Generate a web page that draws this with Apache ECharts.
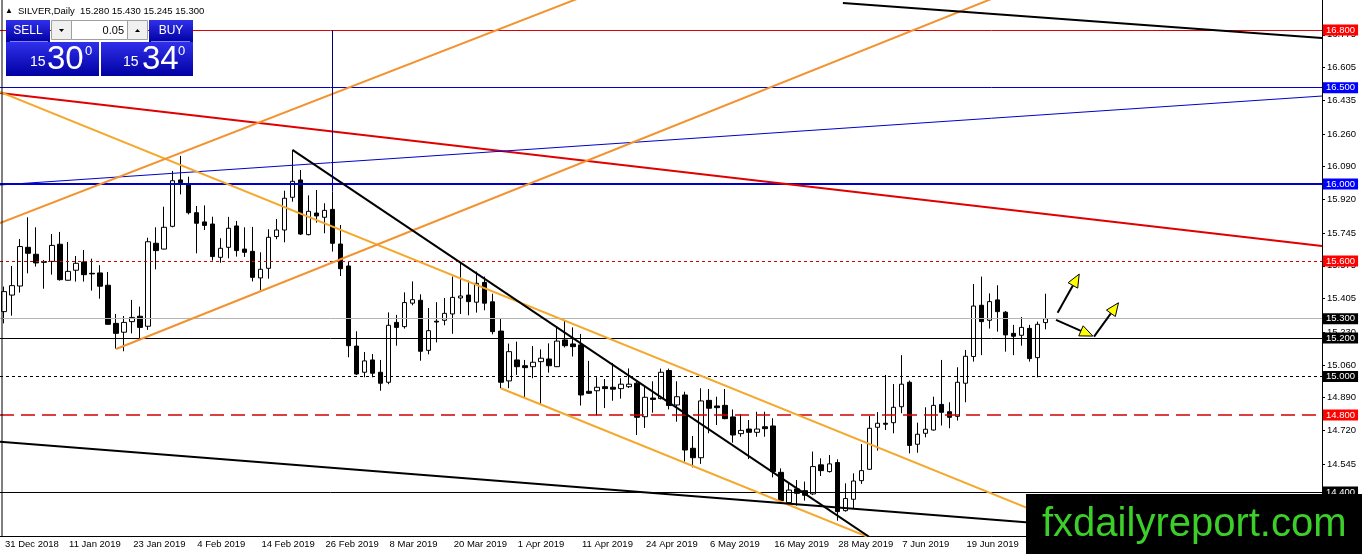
<!DOCTYPE html>
<html>
<head>
<meta charset="utf-8">
<title>SILVER,Daily</title>
<script src="https://cdn.jsdelivr.net/npm/echarts@6/dist/echarts.min.js"></script>
<style>
html,body{margin:0;padding:0;background:#fff;}
#chart{width:1362px;height:554px;}
</style>
</head>
<body>
<div id="chart"></div>
<script>
// date labels, one every 8 daily bars
var tickLabels = ['31 Dec 2018','11 Jan 2019','23 Jan 2019','4 Feb 2019','14 Feb 2019','26 Feb 2019',
    '8 Mar 2019','20 Mar 2019','1 Apr 2019','11 Apr 2019','24 Apr 2019','6 May 2019','16 May 2019',
    '28 May 2019','7 Jun 2019','19 Jun 2019','1 Jul 2019'];
var barsPerTick = 8;
var slotCount = 165;   //bar slots visible on the chart

// daily bars: [open, close, low, high]
var ohlc = [
    [15.337,15.441,15.276,15.467],[15.423,15.472,15.316,15.574],[15.470,15.675,15.436,15.714],[15.671,15.640,15.536,15.827],
    [15.635,15.590,15.571,15.775],[15.597,15.593,15.456,15.605],[15.598,15.681,15.529,15.740],[15.687,15.503,15.498,15.751],
    [15.500,15.546,15.498,15.699],[15.552,15.588,15.493,15.626],[15.595,15.529,15.493,15.657],[15.536,15.533,15.446,15.612],
    [15.538,15.469,15.404,15.578],[15.474,15.271,15.268,15.543],[15.276,15.224,15.145,15.325],[15.230,15.281,15.131,15.314],
    [15.285,15.307,15.224,15.398],[15.313,15.255,15.197,15.363],[15.261,15.700,15.242,15.721],[15.692,15.654,15.557,15.775],
    [15.662,15.775,15.660,15.882],[15.780,16.017,15.775,16.068],[16.021,16.007,15.946,16.146],[16.000,15.851,15.842,16.038],
    [15.851,15.796,15.640,15.886],[15.803,15.785,15.761,15.889],[15.792,15.623,15.602,15.830],[15.619,15.666,15.591,15.718],
    [15.671,15.770,15.614,15.829],[15.782,15.654,15.623,15.808],[15.662,15.645,15.621,15.775],[15.650,15.515,15.494,15.777],
    [15.512,15.557,15.448,15.645],[15.562,15.723,15.508,15.765],[15.727,15.761,15.713,15.818],[15.761,15.926,15.697,15.965],
    [15.931,16.014,15.908,16.177],[16.021,15.740,15.735,16.073],[15.737,15.858,15.733,15.941],[15.849,15.834,15.799,15.969],
    [15.827,15.863,15.744,15.900],[15.868,15.692,15.649,15.960],[15.688,15.560,15.522,15.787],[15.574,15.160,15.100,15.597],
    [15.158,15.013,15.008,15.235],[15.022,15.081,14.996,15.127],[15.086,15.017,14.996,15.117],[15.022,14.965,14.926,15.086],
    [14.970,15.266,14.960,15.333],[15.281,15.255,15.160,15.320],[15.259,15.384,15.249,15.437],[15.381,15.399,15.370,15.494],
    [15.396,15.131,15.082,15.427],[15.136,15.238,15.115,15.356],[15.287,15.283,15.177,15.386],[15.292,15.328,15.266,15.408],
    [15.325,15.411,15.222,15.519],[15.408,15.418,15.325,15.593],[15.423,15.389,15.318,15.498],[15.386,15.484,15.332,15.545],
    [15.489,15.381,15.344,15.519],[15.388,15.233,15.219,15.430],[15.236,14.970,14.939,15.299],[14.977,15.129,14.939,15.171],
    [15.086,15.051,15.008,15.181],[15.056,15.046,14.887,15.086],[15.051,15.074,14.991,15.158],[15.077,15.095,14.852,15.141],
    [15.091,15.056,15.020,15.172],[15.051,15.184,15.049,15.259],[15.190,15.160,15.151,15.294],[15.169,15.155,15.104,15.255],
    [15.164,14.904,14.849,15.221],[14.923,14.913,14.909,15.081],[14.926,14.944,14.798,14.996],[14.947,14.937,14.836,14.987],
    [14.944,14.934,14.874,15.069],[14.937,14.960,14.885,14.991],[14.947,14.960,14.940,15.042],[14.965,14.788,14.696,14.974],
    [14.791,14.892,14.733,14.951],[14.888,14.881,14.812,14.975],[14.885,15.022,14.881,15.041],[15.031,14.849,14.829,15.041],
    [14.852,14.895,14.765,14.975],[14.904,14.618,14.558,14.921],[14.627,14.578,14.528,14.691],[14.578,14.873,14.546,14.939],
    [14.876,14.835,14.705,14.935],[14.847,14.838,14.748,14.895],[14.850,14.781,14.778,14.935],[14.790,14.696,14.656,14.829],
    [14.703,14.720,14.687,14.805],[14.727,14.710,14.571,14.774],[14.710,14.727,14.687,14.817],[14.739,14.729,14.687,14.817],
    [14.743,14.506,14.476,14.783],[14.502,14.355,14.350,14.523],[14.345,14.410,14.329,14.445],[14.416,14.393,14.329,14.462],
    [14.407,14.383,14.355,14.454],[14.390,14.532,14.384,14.610],[14.541,14.511,14.483,14.575],[14.506,14.546,14.501,14.592],
    [14.553,14.298,14.251,14.570],[14.303,14.366,14.298,14.445],[14.362,14.457,14.315,14.497],[14.459,14.511,14.442,14.649],
    [14.518,14.731,14.515,14.795],[14.736,14.757,14.615,14.815],[14.757,14.752,14.722,15.008],[14.760,14.840,14.705,14.961],
    [14.843,14.960,14.809,15.111],[14.970,14.642,14.601,14.979],[14.648,14.700,14.604,14.760],[14.705,14.726,14.684,14.840],
    [14.722,14.850,14.719,14.895],[14.855,14.814,14.745,15.086],[14.817,14.788,14.731,14.866],[14.793,14.970,14.771,15.048],
    [14.965,15.105,14.866,15.138],[15.104,15.366,15.077,15.480],[15.370,15.285,15.111,15.519],[15.292,15.389,15.249,15.432],
    [15.398,15.337,15.233,15.474],[15.334,15.216,15.129,15.340],[15.224,15.209,15.111,15.268],[15.214,15.255,15.160,15.309],
    [15.250,15.093,15.077,15.268],[15.098,15.271,14.996,15.285],[15.280,15.300,15.245,15.430]
];

// right price scale
var priceTicks = [16.775,16.605,16.435,16.260,16.090,15.920,15.745,15.575,15.405,15.230,15.060,14.890,14.720,14.545];
var priceMin = 14.1714, priceMax = 16.9558;

// horizontal levels
var levelPrices = [16.8, 16.5, 16.0, 15.6, 15.3, 15.2, 15.0, 14.8, 14.4];

// trend lines, [bar index, price]
var trendRed       = [[-0.5,16.473],[164.5,15.678]];
var trendBlue      = [[-0.5,15.995],[164.5,16.457]];
var chanUpper      = [[-0.5,16.478],[136.8,14.164]];
var chanLower      = [[62,14.939],[110,14.130]];
var riseUpper      = [[-0.5,15.797],[74.4,17.008]];
var riseLower      = [[14,15.143],[124.3,16.979]];
var fallBlack      = [[36,16.177],[109.3,14.130]];
var baseBlack      = [[-0.5,14.661],[164.5,14.122]];
var topBlack       = [[104.7,16.940],[164.5,16.758]];
var markVertical   = [[41,16.8],[41,15.96]];

// yellow arrows, [tail, tip]
var arrows = [
    [[131.5,15.331],[134.2,15.532]],
    [[131.3,15.294],[135.9,15.210]],
    [[136.05,15.207],[139.1,15.383]]
];

var FONT = 'Liberation Sans';

var slots = [];
for (var i = 0; i < slotCount; i++) {
    var k = i / barsPerTick;
    slots.push(i % barsPerTick == 0 && k < tickLabels.length ? tickLabels[k] : '');
}

//样式: line colour, dash, width, label box colour
var levelStyle = [
    {c:'#e00000', t:'solid', w:1, bg:'#ff0000'},
    {c:'#0000c8', t:'solid', w:1, bg:'#0000ff'},
    {c:'#0000c8', t:'solid', w:2, bg:'#0000ff'},
    {c:'#d00000', t:[3,3], w:1, bg:'#ff0000'},
    {c:'#b4b4b4', t:'solid', w:1, bg:'#000000'},
    {c:'#000000', t:'solid', w:1, bg:'#000000'},
    {c:'#000000', t:[3,3], w:1, bg:'#000000'},
    {c:'#d00000', t:[14,7], w:1.5, bg:'#ff0000'},
    {c:'#000000', t:'solid', w:1, bg:'#000000'}
];

var levelLines = levelPrices.map(function (p, i) {
    var s = levelStyle[i];
    return {
        yAxis: p,
        lineStyle: {color: s.c, type: s.t, width: s.w},
        label: {
            show: true, position: 'end', distance: 1,
            formatter: p.toFixed(3),
            color: '#fff', backgroundColor: s.bg,
            fontFamily: FONT, fontSize: 9.5, padding: [1, 3, 0, 3]
        }
    };
});

function trend(data, color, width) {
    return {
        type: 'line', xAxisIndex: 1, yAxisIndex: 0,
        data: data, symbol: 'none', silent: true, clip: true, z: 5,
        lineStyle: {color: color, width: width}
    };
}

var tickShown = function (index, value) { return value !== ''; };

var myChart = echarts.init(document.getElementById('chart'));
var option = {
    animation: false,
    backgroundColor: '#fff',
    grid: {left: 0, right: 40, top: 0, bottom: 18},
    xAxis: [{
        type: 'category',
        data: slots,
        boundaryGap: true,
        axisLine: {onZero: false, lineStyle: {color: '#000', width: 1}},
        axisTick: {interval: tickShown, alignWithLabel: true, length: 4, lineStyle: {color: '#000'}},
        axisLabel: {interval: tickShown, align: 'left', margin: 3, color: '#000',
            fontFamily: FONT, fontSize: 9.5, padding: [0, 0, 0, 1]},
        splitLine: {show: false}
    }, {
        type: 'value', min: -0.5, max: slotCount - 0.5, show: false,
        axisLine: {onZero: false}
    }],
    yAxis: [{
        type: 'value',
        position: 'right',
        min: priceMin, max: priceMax,
        axisLine: {show: true, onZero: false, lineStyle: {color: '#000'}},
        axisTick: {show: true, customValues: priceTicks, length: 3, lineStyle: {color: '#000'}},
        axisLabel: {customValues: priceTicks, margin: 5, color: '#000', fontFamily: FONT, fontSize: 9.5,
            formatter: function (v) { return v.toFixed(3); }},
        splitLine: {show: false}
    }],
    series: [{
        type: 'candlestick',
        data: ohlc,
        barWidth: 5,
        itemStyle: {color: '#ffffff', color0: '#000000', borderColor: '#000000', borderColor0: '#000000', borderWidth: 1},
        markLine: {symbol: 'none', silent: true, animation: false, data: levelLines},
        z: 3
    },
        trend(trendRed, '#e00000', 2),
        trend(trendBlue, '#0000c8', 1),
        trend(chanUpper, '#f4a82c', 2),
        trend(chanLower, '#f4a82c', 2),
        trend(riseUpper, '#f29330', 2),
        trend(riseLower, '#f29330', 2),
        trend(fallBlack, '#000000', 2),
        trend(baseBlack, '#000000', 2),
        trend(topBlack, '#000000', 2),
        trend(markVertical, '#000080', 1)
    ]
};
myChart.setOption(option);

// 面板和水印
var blueFill = new echarts.graphic.LinearGradient(0, 0, 0, 1, [
    {offset: 0, color: '#3030ec'}, {offset: 1, color: '#0000a2'}
]);
var graphics = [
    {type: 'line', shape: {x1: 2, y1: 0, x2: 2, y2: 536}, style: {stroke: '#000', lineWidth: 1}, z: 20},
    {type: 'text', x: 5, y: 11, style: {text: '▲', fontSize: 8, fill: '#000', verticalAlign: 'middle', fontFamily: FONT}, z: 20},
    {type: 'text', x: 18, y: 11, style: {text: 'SILVER,Daily  15.280 15.430 15.245 15.300', fontSize: 9.5,
        fill: '#000', verticalAlign: 'middle', fontFamily: FONT}, z: 20},
    {type: 'rect', shape: {x: 6, y: 20, width: 44, height: 22}, style: {fill: blueFill}, z: 20},
    {type: 'rect', shape: {x: 149, y: 20, width: 44, height: 22}, style: {fill: blueFill}, z: 20},
    {type: 'rect', shape: {x: 51.5, y: 20.5, width: 20, height: 19}, style: {fill: '#f0f0f0', stroke: '#a0a0a0'}, z: 20},
    {type: 'rect', shape: {x: 71.5, y: 20.5, width: 56, height: 19}, style: {fill: '#ffffff', stroke: '#a0a0a0'}, z: 20},
    {type: 'rect', shape: {x: 127.5, y: 20.5, width: 20, height: 19}, style: {fill: '#f0f0f0', stroke: '#a0a0a0'}, z: 20},
    {type: 'polygon', shape: {points: [[59, 29], [64, 29], [61.5, 32]]}, style: {fill: '#000'}, z: 21},
    {type: 'polygon', shape: {points: [[135, 32], [140, 32], [137.5, 29]]}, style: {fill: '#000'}, z: 21},
    {type: 'text', x: 124, y: 30.5, style: {text: '0.05', fontSize: 11, fill: '#000', align: 'right',
        verticalAlign: 'middle', fontFamily: FONT}, z: 21},
    {type: 'text', x: 28, y: 31, style: {text: 'SELL', fontSize: 12, fill: '#fff', align: 'center',
        verticalAlign: 'middle', fontFamily: FONT}, z: 21},
    {type: 'text', x: 171, y: 31, style: {text: 'BUY', fontSize: 12, fill: '#fff', align: 'center',
        verticalAlign: 'middle', fontFamily: FONT}, z: 21},
    {type: 'line', shape: {x1: 10, y1: 41.5, x2: 48, y2: 41.5}, style: {stroke: '#8080ff', lineWidth: 1}, z: 21},
    {type: 'line', shape: {x1: 151, y1: 41.5, x2: 190, y2: 41.5}, style: {stroke: '#8080ff', lineWidth: 1}, z: 21},
    {type: 'rect', shape: {x: 6, y: 42, width: 93, height: 34}, style: {fill: blueFill}, z: 20},
    {type: 'rect', shape: {x: 101, y: 42, width: 92, height: 34}, style: {fill: blueFill}, z: 20},
    {type: 'text', x: 30, y: 62, style: {text: '15', fontSize: 14, fill: '#fff', verticalAlign: 'middle', fontFamily: FONT}, z: 21},
    {type: 'text', x: 47, y: 60, style: {text: '30', fontSize: 33, fill: '#fff', verticalAlign: 'middle', fontFamily: FONT}, z: 21},
    {type: 'text', x: 85, y: 51, style: {text: '0', fontSize: 13, fill: '#fff', verticalAlign: 'middle', fontFamily: FONT}, z: 21},
    {type: 'text', x: 123, y: 62, style: {text: '15', fontSize: 14, fill: '#fff', verticalAlign: 'middle', fontFamily: FONT}, z: 21},
    {type: 'text', x: 142, y: 60, style: {text: '34', fontSize: 33, fill: '#fff', verticalAlign: 'middle', fontFamily: FONT}, z: 21},
    {type: 'text', x: 178, y: 51, style: {text: '0', fontSize: 13, fill: '#fff', verticalAlign: 'middle', fontFamily: FONT}, z: 21},
    {type: 'rect', shape: {x: 1026, y: 494, width: 336, height: 60}, style: {fill: '#000'}, z: 30},
    {type: 'text', x: 1042, y: 525, style: {text: 'fxdailyreport.com', fontSize: 40, fill: '#3ccf2a',
        verticalAlign: 'middle', fontFamily: FONT}, z: 31}
];

// 箭头
arrows.forEach(function (a) {
    var t = myChart.convertToPixel({seriesIndex: 1}, a[0]);
    var h = myChart.convertToPixel({seriesIndex: 1}, a[1]);
    var dx = h[0] - t[0], dy = h[1] - t[1];
    var len = Math.sqrt(dx * dx + dy * dy);
    var ux = dx / len, uy = dy / len;
    var bx = h[0] - ux * 13, by = h[1] - uy * 13;
    graphics.push({type: 'line', shape: {x1: t[0], y1: t[1], x2: bx, y2: by},
        style: {stroke: '#000', lineWidth: 2}, z: 25});
    graphics.push({type: 'polygon', shape: {points: [h, [bx - uy * 5.5, by + ux * 5.5], [bx + uy * 5.5, by - ux * 5.5]]},
        style: {fill: '#ffff00', stroke: '#000', lineWidth: 1}, z: 26});
});

myChart.setOption({graphic: graphics});
</script>
</body>
</html>
